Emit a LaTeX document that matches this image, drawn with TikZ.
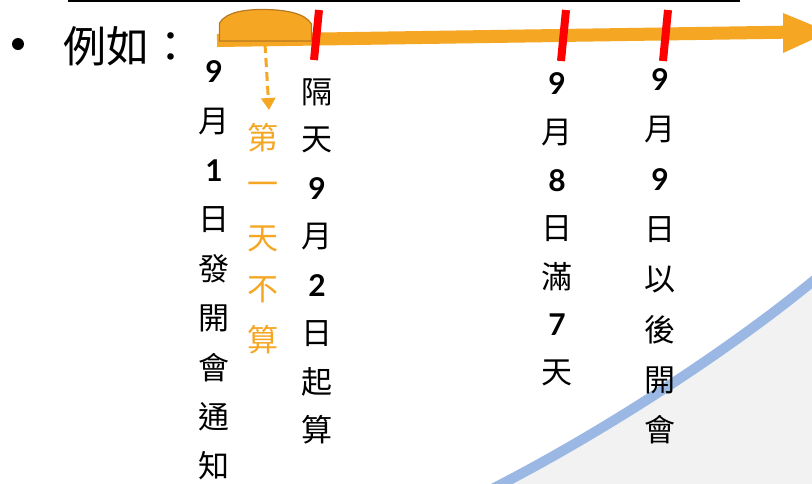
\documentclass[tikz,border=0pt]{standalone}
\usepackage{fontspec}
\newfontfamily\cjk{Noto Sans CJK TC}
\newfontfamily\dig{Lato}
\usetikzlibrary{arrows.meta}
\definecolor{orng}{RGB}{245,166,35}
\definecolor{orngdark}{RGB}{185,122,30}
\definecolor{tickred}{RGB}{255,0,0}
\definecolor{bandblue}{RGB}{155,184,229}
\definecolor{bggray}{RGB}{242,242,242}
\newcommand\Dg[1]{{\dig\bfseries\fontsize{30}{30}\selectfont #1}}
\begin{document}
\begin{tikzpicture}[x=1pt,y=-1pt,
  ch/.style={inner sep=0pt,anchor=center,font=\cjk\fontsize{31}{31}\selectfont},
  och/.style={ch,text=orng},
  tickmark/.style={draw=tickred,line width=8pt},
  band/.style={draw=bandblue,line width=10pt},
]
\useasboundingbox (0,0) rectangle (812,483);
\fill[white] (0,0) rectangle (812,483);
% background corner
\fill[bggray] (488,491) .. controls (595,437) and (735,348) .. (830,267) -- (830,500) -- (488,500) -- cycle;
\draw[band] (488,491) .. controls (595,437) and (735,348) .. (830,267);
% top rule
\coordinate (rL) at (68,1);
\coordinate (rR) at (740,1);
\draw[line width=1.5pt] (rL) -- (rR);
% bullet and title
\node[circle,fill=black,inner sep=0pt,minimum size=12pt] (bul) at (18,44) {};
\node[anchor=west,inner sep=0pt,font=\cjk\fontsize{43}{43}\selectfont] (title) at (63,46) {例如：};
% timeline arrow
\coordinate (aS) at (217,40.5);
\coordinate (aE) at (784,32.2);
\draw[orng,line width=13pt] (aS) -- (aE);
\fill[orng] (783,13) -- (829,32) -- (783,53) -- cycle;
% dome
\filldraw[fill=orng,draw=orngdark,line width=1.2pt] (219.5,41) -- (219.5,23) .. controls (226,12) and (245,9.5) .. (262,9.5) .. controls (285,9.5) and (305,13) .. (311.5,24) -- (311.5,41) -- cycle;
% dashed arrow
\coordinate (dS) at (265,44);
\coordinate (dE) at (269,110);
\draw[orng,line width=3pt,dash pattern=on 9pt off 5pt,-{Triangle[length=12pt,width=14pt]}] (dS) -- (dE);
% red ticks
\draw[tickmark] (319,10) -- (314,60);
\draw[tickmark] (566,10) -- (561,61);
\draw[tickmark] (668,10) -- (663,61);
% columns
\foreach \t [count=\i] in {{\Dg{9}},月,{\Dg{1}},日,發,開,會,通,知}
  \node[ch] (a\i) at (214,{72+(\i-1)*49.2}) {\t};
\foreach \t [count=\i] in {第,一,天,不,算}
  \node[och] (b\i) at (263,{138+(\i-1)*50.5}) {\t};
\foreach \t [count=\i] in {隔,天,{\Dg{9}},月,{\Dg{2}},日,起,算}
  \node[ch] (c\i) at (317,{92+(\i-1)*48.3}) {\t};
\foreach \t [count=\i] in {{\Dg{9}},月,{\Dg{8}},日,滿,{\Dg{7}},天}
  \node[ch] (d\i) at (557,{84+(\i-1)*48.2}) {\t};
\foreach \t [count=\i] in {{\Dg{9}},月,{\Dg{9}},日,以,後,開,會}
  \node[ch] (e\i) at (660,{80+(\i-1)*50}) {\t};
\end{tikzpicture}
\end{document}
